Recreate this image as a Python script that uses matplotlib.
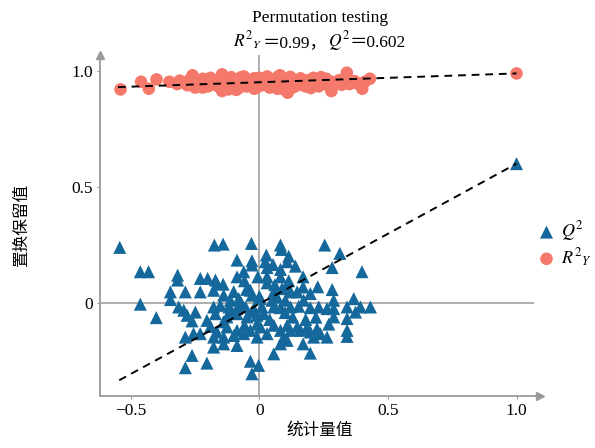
import numpy as np
import matplotlib
matplotlib.use("Agg")
import matplotlib.pyplot as plt
from matplotlib.offsetbox import TextArea, HPacker, AnchoredOffsetbox

plt.rcParams['font.family'] = ['Liberation Serif', 'Noto Sans CJK SC']
plt.rcParams['mathtext.fontset'] = 'stix'

# permuted R2Y values (circles)
r2_x = [-0.54, -0.46, -0.43, -0.40, -0.35, -0.32, -0.31, -0.29, -0.28, -0.27,
        -0.26, -0.26, -0.25, -0.24, -0.23, -0.22, -0.21, -0.20, -0.19, -0.18,
        -0.17, -0.16, -0.15, -0.145, -0.145, -0.14, -0.13, -0.12, -0.11, -0.11,
        -0.10, -0.09, -0.08, -0.07, -0.06, -0.05, -0.04, -0.03, -0.02, -0.01,
        0.00, 0.01, 0.02, 0.03, 0.04, 0.05, 0.06, 0.07, 0.08, 0.08,
        0.09, 0.10, 0.11, 0.11, 0.12, 0.13, 0.14, 0.15, 0.16, 0.17,
        0.18, 0.19, 0.20, 0.21, 0.22, 0.23, 0.24, 0.25, 0.26, 0.27,
        0.28, 0.28, 0.30, 0.31, 0.32, 0.34, 0.34, 0.35, 0.37, 0.38,
        0.40, 0.41, 0.43, 1.00,
        -0.20, -0.15, -0.05, 0.00, 0.05, 0.09, 0.13, -0.08, -0.17, 0.18,
        -0.12, -0.06, -0.02, 0.03, 0.07, 0.12, -0.22, 0.20, 0.24, -0.09]
r2_y = [0.922, 0.955, 0.925, 0.965, 0.955, 0.945, 0.960, 0.950, 0.940, 0.965,
        0.983, 0.945, 0.930, 0.958, 0.948, 0.968, 0.940, 0.955, 0.972, 0.945,
        0.962, 0.935, 0.952, 0.987, 0.915, 0.968, 0.940, 0.958, 0.975, 0.930,
        0.950, 0.965, 0.940, 0.975, 0.952, 0.935, 0.962, 0.945, 0.970, 0.930,
        0.955, 0.940, 0.968, 0.950, 0.930, 0.962, 0.945, 0.975, 0.983, 0.935,
        0.955, 0.920, 0.908, 0.965, 0.945, 0.930, 0.958, 0.940, 0.970, 0.950,
        0.935, 0.962, 0.945, 0.972, 0.952, 0.935, 0.960, 0.945, 0.968, 0.938,
        0.915, 0.955, 0.948, 0.962, 0.942, 0.994, 0.955, 0.945, 0.958, 0.948,
        0.925, 0.955, 0.968, 0.991,
        0.935, 0.972, 0.958, 0.972, 0.940, 0.925, 0.965, 0.928, 0.950, 0.958,
        0.922, 0.978, 0.925, 0.978, 0.925, 0.976, 0.930, 0.928, 0.975, 0.920]

# permuted Q2 values (triangles)
q2_x = [-0.543, -0.175, -0.141, -0.031, 0.082, 0.086, 0.254, 0.313,
        0.027, 0.114, -0.087, -0.029, 0.023, 0.108, -0.029, 0.053, 0.140, 0.030, 0.082, 0.283,
        -0.463, -0.431, 0.399, -0.061, -0.318, -0.318, -0.230, -0.201, -0.171, -0.165,
        -0.141, -0.087, -0.058, -0.006, 0.030, 0.030, 0.082, 0.114, 0.108, 0.088, 0.170,
        -0.346, -0.288, -0.230, -0.346, -0.178, -0.139, -0.035, -0.029, 0.056, 0.069,
        0.121, 0.147, 0.198, 0.227, 0.283, 0.289, 0.367, -0.113, -0.080, 0.004,
        0.049, 0.101, 0.172,
        -0.463, -0.314, -0.178, -0.152, -0.119, -0.087, -0.054, -0.022, 0.010, 0.056,
        0.082, 0.121, 0.153, 0.198, 0.231, 0.263, 0.289, 0.341, 0.393, 0.432,
        0.374, 0.341, 0.289, -0.294, -0.281, -0.262, -0.249, -0.401, -0.204, -0.171,
        -0.126, -0.087, -0.048, -0.009, 0.017, -0.022, -0.106,
        0.056, 0.108, 0.147, 0.185, 0.224, 0.004, -0.058, -0.126, -0.288, -0.256,
        -0.230, -0.178, -0.165, -0.139, -0.100, -0.087, -0.061, -0.035, -0.009, 0.030,
        0.082, 0.095, 0.121, 0.160, 0.198, 0.211, 0.237, 0.263, 0.341, 0.341,
        -0.178, -0.139, -0.087, 0.082, 0.108, 0.170, -0.262, -0.204, -0.288, 0.056,
        0.198, -0.035, -0.003, -0.029,
        -0.05, 0.00, -0.10, 0.04, 0.13, 0.18, 0.22, -0.01, -0.14, 0.06,
        0.17, -0.19, 0.27, -0.07, 0.10, 1.00]
q2_y = [0.241, 0.251, 0.255, 0.258, 0.251, 0.232, 0.251, 0.215,
        0.208, 0.203, 0.186, 0.183, 0.179, 0.179, 0.165, 0.167, 0.160, 0.154, 0.146, 0.154,
        0.136, 0.136, 0.136, 0.136, 0.121, 0.100, 0.107, 0.107, 0.100, 0.085,
        0.082, 0.114, 0.097, 0.114, 0.114, 0.088, 0.114, 0.097, 0.078, 0.063, 0.114,
        0.049, 0.049, 0.049, 0.016, 0.056, 0.035, 0.056, 0.035, 0.049, 0.027,
        0.049, 0.049, 0.042, 0.071, 0.059, 0.013, 0.020, 0.013, 0.020, 0.020,
        0.013, 0.013, 0.013,
        -0.004, -0.016, -0.016, -0.009, -0.016, -0.023, -0.016, -0.023, -0.016, -0.016,
        -0.019, -0.016, -0.013, -0.019, -0.016, -0.023, -0.023, -0.016, -0.016, -0.016,
        -0.038, -0.066, -0.059, -0.030, -0.052, -0.076, -0.038, -0.062, -0.074, -0.045,
        -0.059, -0.045, -0.059, -0.052, -0.045, -0.038, -0.038,
        -0.095, -0.095, -0.102, -0.105, -0.110, -0.102, -0.095, -0.102, -0.146, -0.131,
        -0.131, -0.146, -0.124, -0.146, -0.139, -0.117, -0.131, -0.117, -0.146, -0.131,
        -0.117, -0.146, -0.117, -0.117, -0.124, -0.146, -0.131, -0.146, -0.117, -0.143,
        -0.189, -0.175, -0.182, -0.175, -0.160, -0.175, -0.225, -0.258, -0.278, -0.218,
        -0.215, -0.250, -0.268, -0.304,
        0.060, 0.030, 0.050, -0.070, -0.060, -0.070, -0.060, -0.090, -0.080, 0.080,
        0.070, -0.100, -0.090, 0.000, -0.040, 0.602]

# regression lines (intercept -> original model)
r2_line_x = [-0.55, 1.00]
r2_line_y = [0.932, 0.991]
q2_line_x = [-0.545, 1.00]
q2_line_y = [-0.332, 0.602]

xticks = [-0.5, 0, 0.5, 1.0]
xtick_labels = ['\u22120.5', '0', '0.5', '1.0']
yticks = [0, 0.5, 1.0]
ytick_labels = ['0', '0.5', '1.0']

fig = plt.figure(figsize=(5.95, 4.48), dpi=100)
ax = fig.add_axes([0.168, 0.116, 0.739, 0.761])

grey = '#9a9a9a'
ax.axhline(0, color='#a8a8a8', lw=1.3, zorder=1, xmax=0.985)
ax.axvline(0, color='#a8a8a8', lw=1.3, zorder=1)

ax.scatter(q2_x, q2_y, marker='^', s=88, color='#15689b', edgecolors='none',
           zorder=3, label='$Q^2$')
ax.scatter(r2_x, r2_y, marker='o', s=82, color='#f5796a', edgecolors='none',
           zorder=3, label='$R^2{}_Y$')

ax.plot(q2_line_x, q2_line_y, ls=(0, (4, 3)), color='black', lw=1.4, zorder=4)
ax.plot(r2_line_x, r2_line_y, ls=(0, (4, 3)), color='black', lw=1.4, zorder=4)

ax.set_xlim(-0.62, 1.09)
ax.set_ylim(-0.40, 1.07)

for s in ['top', 'right']:
    ax.spines[s].set_visible(False)
for s in ['left', 'bottom']:
    ax.spines[s].set_color(grey)
    ax.spines[s].set_linewidth(1.3)

# arrow heads on the axes
ax.plot(1, 0, marker='>', ms=6, color=grey, transform=ax.transAxes, clip_on=False)
ax.plot(0, 1, marker='^', ms=6, color=grey, transform=ax.transAxes, clip_on=False)

ax.set_xticks(xticks)
ax.set_xticklabels(xtick_labels)
ax.set_yticks(yticks)
ax.set_yticklabels(ytick_labels)
ax.tick_params(axis='both', length=2, color=grey, labelsize=12.5, pad=3)

ax.set_xlabel('统计量值', fontsize=12, family=['Noto Sans CJK SC'], labelpad=2)
ax.set_ylabel('置换保留值', fontsize=12, family=['Noto Sans CJK SC'], labelpad=30)

# title: first line plain, second line mixes mathtext with CJK punctuation
ax.set_title('Permutation testing', fontsize=12.5, pad=24)
tp = dict(fontsize=12.5)
parts = [TextArea('$R^2{}_Y$', textprops=tp),
         TextArea('＝0.99，', textprops=tp),
         TextArea('$Q^2$', textprops=tp),
         TextArea('＝0.602', textprops=tp)]
line2 = HPacker(children=parts, align='baseline', pad=0, sep=0)
box = AnchoredOffsetbox(loc='lower center', child=line2, pad=0, frameon=False,
                        bbox_to_anchor=(0.5, 1.005), bbox_transform=ax.transAxes,
                        borderpad=0)
ax.add_artist(box)

ax.legend(loc='center left', bbox_to_anchor=(0.995, 0.446), frameon=False,
          fontsize=13, handlelength=1.0, handletextpad=0.3, labelspacing=0.15,
          borderaxespad=0, borderpad=0)

fig.savefig('out.png', dpi=100)
